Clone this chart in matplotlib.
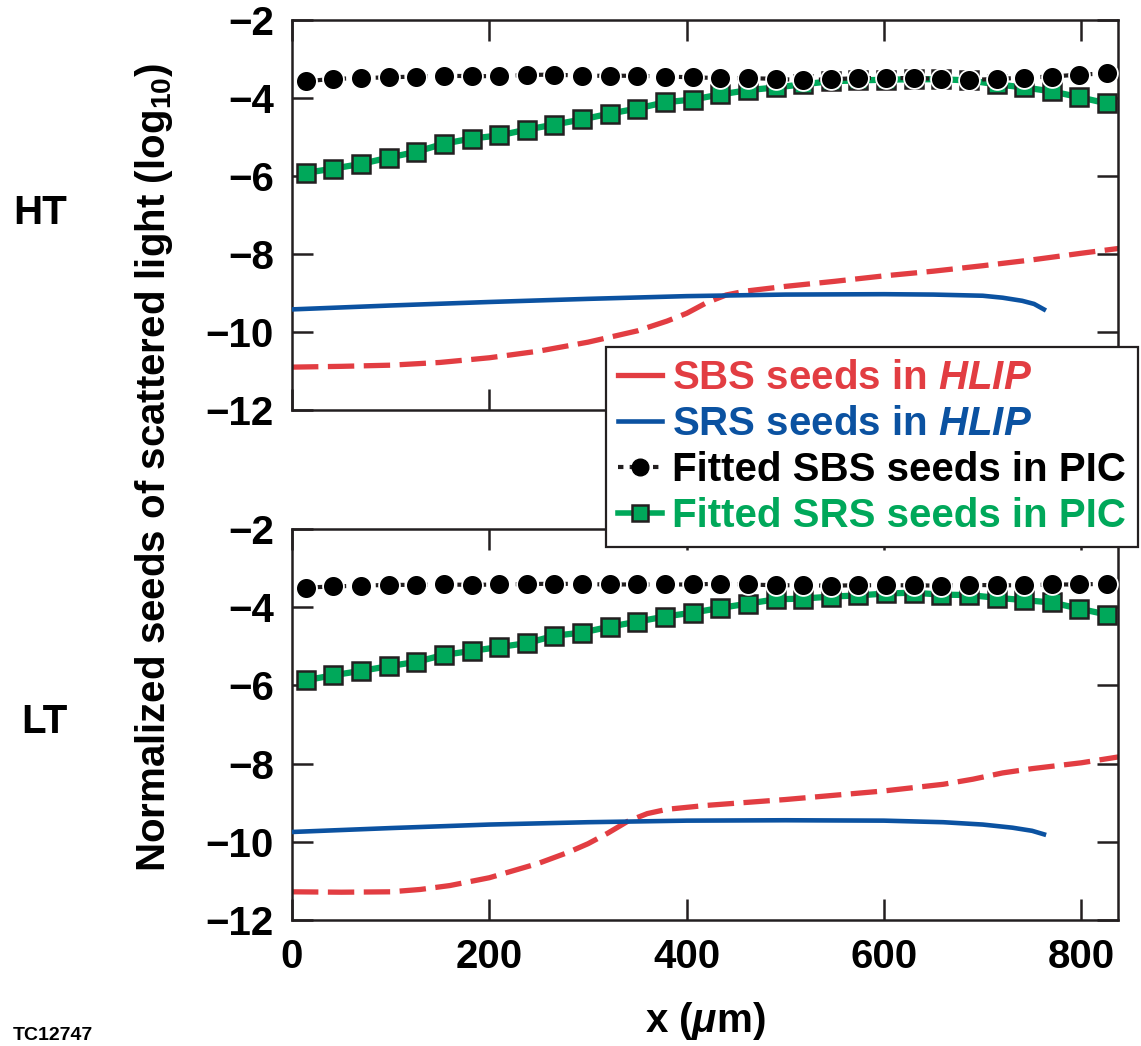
import matplotlib
matplotlib.use("Agg")
import matplotlib.pyplot as plt
from matplotlib.lines import Line2D

plt.rcParams['font.family'] = ['Liberation Sans', 'DejaVu Sans']
plt.rcParams['font.weight'] = 'bold'
plt.rcParams['axes.labelweight'] = 'bold'
plt.rcParams['mathtext.fontset'] = 'custom'
plt.rcParams['mathtext.rm'] = 'Liberation Sans:bold'
plt.rcParams['mathtext.it'] = 'Liberation Sans:italic:bold'
plt.rcParams['mathtext.bf'] = 'Liberation Sans:bold'

RED = '#E23D42'
BLUE = '#0B52A1'
GREEN = '#00A85A'
DARK = '#231F20'
FS = 29

# PIC fitted points (same x for all four series)
x_pic = [14, 42, 70, 98, 126, 154, 182, 210, 238, 266, 294, 322, 350, 378, 406,
         434, 462, 490, 518, 546, 574, 602, 630, 658, 686, 714, 742, 770, 798, 826]

ht_sbs_pic = [-3.57, -3.51, -3.49, -3.47, -3.45, -3.43, -3.44, -3.44, -3.41, -3.40,
              -3.43, -3.43, -3.43, -3.45, -3.47, -3.49, -3.49, -3.51, -3.54, -3.52,
              -3.49, -3.49, -3.49, -3.51, -3.54, -3.51, -3.48, -3.45, -3.40, -3.37]
ht_srs_pic = [-5.92, -5.81, -5.69, -5.53, -5.38, -5.17, -5.04, -4.96, -4.81, -4.68,
              -4.55, -4.40, -4.27, -4.11, -4.04, -3.91, -3.80, -3.73, -3.65, -3.57,
              -3.55, -3.53, -3.52, -3.52, -3.55, -3.65, -3.73, -3.83, -3.98, -4.14]
lt_sbs_pic = [-3.50, -3.47, -3.45, -3.43, -3.43, -3.42, -3.43, -3.42, -3.41, -3.40,
              -3.41, -3.42, -3.42, -3.42, -3.42, -3.40, -3.42, -3.44, -3.44, -3.45,
              -3.44, -3.44, -3.44, -3.45, -3.43, -3.44, -3.44, -3.42, -3.42, -3.40]
lt_srs_pic = [-5.87, -5.74, -5.63, -5.51, -5.40, -5.22, -5.12, -5.02, -4.92, -4.73,
              -4.65, -4.50, -4.37, -4.24, -4.14, -4.02, -3.91, -3.80, -3.78, -3.73,
              -3.70, -3.65, -3.63, -3.68, -3.69, -3.76, -3.82, -3.88, -4.04, -4.19]

# HLIP curves
ht_sbs_x = [0, 50, 100, 150, 200, 250, 300, 350, 380, 400, 420, 440, 460, 500,
            550, 600, 650, 700, 750, 800, 840]
ht_sbs_y = [-10.90, -10.88, -10.85, -10.78, -10.66, -10.49, -10.26, -9.97, -9.72,
            -9.52, -9.25, -9.05, -8.95, -8.83, -8.70, -8.56, -8.44, -8.30, -8.15,
            -7.98, -7.85]
ht_srs_x = [0, 100, 200, 300, 400, 500, 600, 650, 700, 720, 740, 752, 762]
ht_srs_y = [-9.42, -9.32, -9.23, -9.15, -9.08, -9.04, -9.03, -9.04, -9.07, -9.12,
            -9.20, -9.28, -9.42]

lt_sbs_x = [0, 50, 100, 130, 160, 200, 250, 280, 300, 320, 340, 360, 380, 420,
            500, 600, 660, 690, 720, 750, 800, 840]
lt_sbs_y = [-11.28, -11.29, -11.28, -11.22, -11.12, -10.92, -10.55, -10.27, -10.05,
            -9.78, -9.48, -9.28, -9.17, -9.07, -8.92, -8.70, -8.53, -8.40, -8.24,
            -8.13, -7.98, -7.82]
lt_srs_x = [0, 100, 200, 300, 400, 500, 600, 660, 700, 730, 750, 762]
lt_srs_y = [-9.75, -9.65, -9.56, -9.50, -9.46, -9.45, -9.46, -9.50, -9.56, -9.64,
            -9.72, -9.81]

y_ticks = [-12, -10, -8, -6, -4, -2]
x_ticks = [0, 200, 400, 600, 800]

fig = plt.figure(figsize=(11.41, 10.46), dpi=100)
ax_top = fig.add_axes([0.2559, 0.6080, 0.7239, 0.3729])
ax_bot = fig.add_axes([0.2559, 0.1205, 0.7239, 0.3738])

panels = [
    (ax_top, ht_sbs_x, ht_sbs_y, ht_srs_x, ht_srs_y, ht_sbs_pic, ht_srs_pic),
    (ax_bot, lt_sbs_x, lt_sbs_y, lt_srs_x, lt_srs_y, lt_sbs_pic, lt_srs_pic),
]
for ax, sx, sy, rx, ry, sbs, srs in panels:
    ax.plot(sx, sy, color=RED, lw=3.8, dashes=(5, 1.8), zorder=2)
    ax.plot(rx, ry, color=BLUE, lw=3.3, zorder=3)
    ax.plot(x_pic, srs, color=GREEN, lw=4.5, marker='s', ms=13.5, mfc=GREEN,
            mec=DARK, mew=1.8, zorder=4)
    ax.plot(x_pic, sbs, color=DARK, lw=3.0, dashes=(1.3, 1.5), zorder=5)
    ax.plot(x_pic, sbs, ls='none', marker='o', ms=15, mfc='black',
            mec='white', mew=1.3, zorder=6)
    ax.set_xlim(0, 837)
    ax.set_ylim(-12, -2)
    ax.set_yticks(y_ticks)
    ax.set_xticks(x_ticks)
    ax.tick_params(direction='in', length=15, width=1.8, top=True, right=True,
                   labelsize=FS, pad=13, color=DARK)
    for s in ax.spines.values():
        s.set_linewidth(1.8)
        s.set_color(DARK)

ax_top.tick_params(labelbottom=False)
ax_bot.set_xlabel(r'x ($\mu$m)', fontsize=FS, fontweight='bold', labelpad=17)

fig.text(154 / 1141, 1 - 468 / 1046,
         r'Normalized seeds of scattered light (log$_{\mathbf{10}}$)',
         rotation=90, ha='center', va='center', fontsize=FS)
fig.text(40 / 1141, 1 - 213 / 1046, 'HT', ha='center', va='center', fontsize=FS)
fig.text(44 / 1141, 1 - 722 / 1046, 'LT', ha='center', va='center', fontsize=FS)
fig.text(13 / 1141, 2 / 1046, 'TC12747', ha='left', va='bottom', fontsize=14)

handles = [
    Line2D([], [], color=RED, lw=3.8),
    Line2D([], [], color=BLUE, lw=3.3),
    Line2D([], [], color=DARK, lw=3.0, dashes=(1.3, 1.5), marker='o', ms=12,
           mfc='black', mec='black'),
    Line2D([], [], color=GREEN, lw=4.0, marker='s', ms=11, mfc=GREEN, mec=DARK,
           mew=1.8),
]
labels = [r'SBS seeds in $\mathit{HLIP}$', r'SRS seeds in $\mathit{HLIP}$',
          'Fitted SBS seeds in PIC', 'Fitted SRS seeds in PIC']
leg = fig.legend(handles, labels, loc='upper left',
                 bbox_to_anchor=(606 / 1141, 1 - 347 / 1046), fontsize=FS,
                 labelcolor=[RED, BLUE, 'black', GREEN], numpoints=1,
                 handlelength=1.1, handletextpad=0.25, labelspacing=0.2,
                 borderpad=0.3, borderaxespad=0, fancybox=False, framealpha=1,
                 edgecolor=DARK)
leg.get_frame().set_linewidth(1.6)

fig.savefig('out.png', dpi=100)
